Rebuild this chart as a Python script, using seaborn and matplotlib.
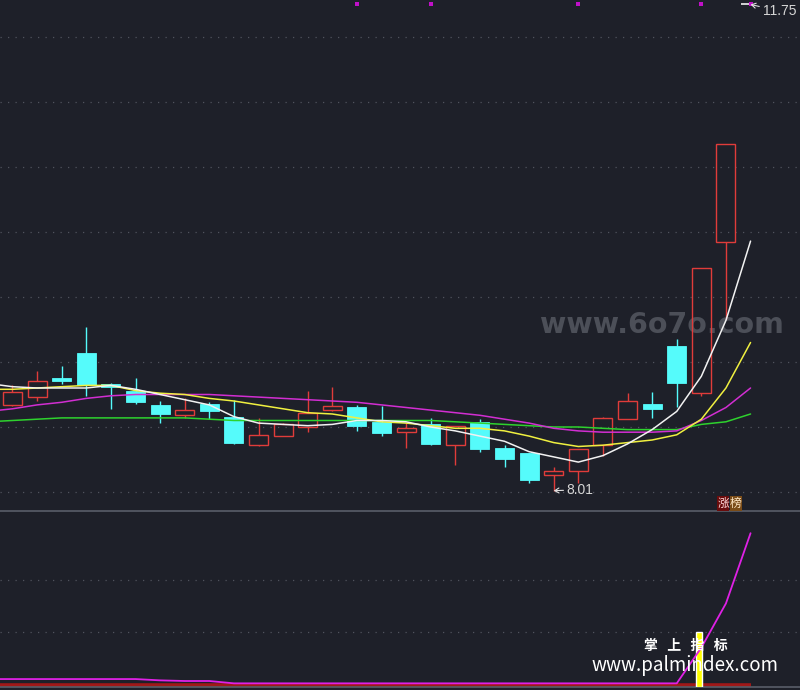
import matplotlib
matplotlib.use("Agg")
import matplotlib.pyplot as plt
import matplotlib.transforms as mtransforms
import numpy as np
import pandas as pd
import seaborn as sns

# ---- daily candles, oldest first (index 0..30) ----
opens  = [8.67, 8.73, 8.88, 9.07, 8.83, 8.78, 8.67, 8.59, 8.68, 8.58,
          8.36, 8.43, 8.50, 8.63, 8.65, 8.54, 8.46, 8.52, 8.36, 8.54,
          8.34, 8.30, 8.13, 8.16, 8.36, 8.56, 8.68, 9.12, 8.76, 9.92, 11.75]
highs  = [8.82, 8.93, 8.97, 9.27, 8.84, 8.88, 8.70, 8.72, 8.69, 8.71,
          8.57, 8.53, 8.78, 8.81, 8.67, 8.66, 8.53, 8.57, 8.51, 8.56,
          8.36, 8.30, 8.19, 8.33, 8.58, 8.76, 8.77, 9.18, 9.72, 10.68, 11.75]
lows   = [8.66, 8.70, 8.83, 8.74, 8.64, 8.68, 8.53, 8.57, 8.56, 8.37,
          8.35, 8.43, 8.46, 8.62, 8.47, 8.43, 8.34, 8.36, 8.21, 8.31,
          8.19, 8.07, 8.01, 8.07, 8.28, 8.56, 8.57, 8.65, 8.74, 9.33, 11.75]
closes = [8.77, 8.85, 8.85, 8.82, 8.81, 8.69, 8.60, 8.63, 8.62, 8.38,
          8.44, 8.52, 8.61, 8.66, 8.51, 8.45, 8.49, 8.37, 8.51, 8.33,
          8.25, 8.09, 8.16, 8.33, 8.57, 8.70, 8.64, 8.84, 9.72, 10.68, 11.75]

# ---- moving averages, starting one session before the first candle (-1..30) ----
ma5  = [8.835, 8.81, 8.80, 8.80, 8.80, 8.82, 8.79, 8.75, 8.71, 8.67, 8.58,
        8.53, 8.52, 8.51, 8.52, 8.55, 8.55, 8.54, 8.50, 8.47, 8.43,
        8.39, 8.31, 8.27, 8.23, 8.28, 8.37, 8.48, 8.62, 8.89, 9.32, 9.93]
ma10 = [8.79, 8.79, 8.80, 8.81, 8.82, 8.82, 8.78, 8.76, 8.75, 8.72, 8.70,
        8.67, 8.64, 8.61, 8.60, 8.57, 8.54, 8.53, 8.51, 8.49, 8.49,
        8.47, 8.43, 8.38, 8.35, 8.36, 8.38, 8.40, 8.44, 8.56, 8.80, 9.15]
ma20 = [8.62, 8.64, 8.67, 8.69, 8.72, 8.74, 8.75, 8.75, 8.75, 8.75, 8.74,
        8.73, 8.72, 8.71, 8.70, 8.69, 8.67, 8.65, 8.63, 8.61, 8.59,
        8.56, 8.53, 8.49, 8.47, 8.46, 8.46, 8.46, 8.47, 8.55, 8.65, 8.80]
ma60 = [8.54, 8.55, 8.56, 8.57, 8.57, 8.57, 8.57, 8.57, 8.57, 8.56, 8.55,
        8.55, 8.55, 8.55, 8.55, 8.55, 8.55, 8.55, 8.55, 8.54, 8.53,
        8.52, 8.51, 8.50, 8.50, 8.49, 8.48, 8.48, 8.48, 8.52, 8.54, 8.60]

# ---- sub-chart indicator (-1..30) ----
sub_line = [1.9, 1.9, 1.9, 1.9, 1.9, 1.9, 1.9, 1.4, 1.15, 1.15,
            0.25, 0.25, 0.25, 0.25, 0.25, 0.25, 0.25, 0.25, 0.25, 0.25,
            0.25, 0.25, 0.25, 0.25, 0.25, 0.25, 0.25, 0.25, 0.25, 14, 31, 58]
signal_days = [14, 17, 23, 28, 30]
trigger_day = [27.9]
trigger_level = [20]

price_ticks = [8.0, 8.5, 9.0, 9.5, 10.0, 10.5, 11.0, 11.5]
sub_ticks = [20, 40]

BG = "#1e2029"
RED = "#e03c3a"
CYAN = "#55fbfb"
GRID = "#50535d"

sns.set_theme(style="dark", rc={"axes.facecolor": BG, "figure.facecolor": BG,
                                "savefig.facecolor": BG})
plt.rcParams["font.family"] = ["DejaVu Sans", "Noto Sans CJK SC"]

fig = plt.figure(figsize=(8.0, 6.9), dpi=100)
ax = fig.add_axes([0, 0.25942, 1, 0.74058])
ax2 = fig.add_axes([0, 0.00435, 1, 0.25507])

days = np.arange(len(closes))
ma_days = np.arange(-1, len(closes))
o = np.array(opens); h = np.array(highs); l = np.array(lows); c = np.array(closes)
width = 0.77

for a in (ax, ax2):
    a.set_xlim(-0.508, 32.01)
    a.set_xticks([]); a.set_yticks([])
    a.grid(False)
    for s in a.spines.values():
        s.set_visible(False)

ax.set_ylim(7.8538, 11.7846)
ax2.set_ylim(-1.154, 66.54)

for p in price_ticks:
    ax.axhline(p, color=GRID, lw=0.9, ls=(0, (1, 5)), zorder=0.6)
for v in sub_ticks:
    ax2.axhline(v, color=GRID, lw=0.9, ls=(0, (1, 5)), zorder=0.6)

for side in ("top", "bottom"):
    ax2.spines[side].set_visible(True)
    ax2.spines[side].set_color("#5a5e69")
    ax2.spines[side].set_linewidth(1.2)

# watermark behind the candles
ax.text(662 / 800, 1 - 325 / 690, "www.6o7o.com", transform=fig.transFigure,
        ha="center", va="center", fontsize=20.5, fontweight="bold",
        color="#4c4f58", zorder=0.5)

up = c > o
down = c < o
flat = c == o

# rising candles: hollow red bodies with wicks outside the body
ax.bar(days[up], (c - o)[up], bottom=o[up], width=width, facecolor="none",
       edgecolor=RED, linewidth=1.0, zorder=2)
ax.vlines(days[up], c[up], h[up], color=RED, lw=1.0, zorder=2)
ax.vlines(days[up], l[up], o[up], color=RED, lw=1.0, zorder=2)

# falling candles: solid cyan
ax.vlines(days[down], l[down], h[down], color=CYAN, lw=1.0, zorder=2)
ax.bar(days[down], (o - c)[down], bottom=c[down], width=width, color=CYAN,
       edgecolor=CYAN, linewidth=0.6, zorder=2.1)

# one-price session
ax.hlines(c[flat], days[flat] - width / 2, days[flat],
          color="#f0f0f0", lw=1.2, zorder=2)

ma_df = pd.DataFrame({
    "day": np.tile(ma_days, 4),
    "price": ma5 + ma10 + ma20 + ma60,
    "line": ["MA5"] * len(ma5) + ["MA10"] * len(ma10) + ["MA20"] * len(ma20) + ["MA60"] * len(ma60),
})
palette = {"MA5": "#f2f2f2", "MA10": "#f0f040", "MA20": "#d22ed2", "MA60": "#2ed22e"}
sns.lineplot(data=ma_df, x="day", y="price", hue="line", palette=palette,
             hue_order=["MA60", "MA20", "MA10", "MA5"], estimator=None, sort=False,
             legend=False, linewidth=1.1, ax=ax, zorder=3)
ax.set_xlabel(""); ax.set_ylabel("")

# signal markers along the top edge
top_tr = mtransforms.blended_transform_factory(ax.transData, ax.transAxes)
ax.scatter(signal_days, [1 - 3.5 / 511] * len(signal_days), marker="s", s=9,
           color="#c010c8", transform=top_tr, zorder=4, linewidths=0)

# low / high labels
num_font = ["Liberation Sans", "DejaVu Sans"]
arrow_kw = dict(arrowstyle="->,head_length=0.3,head_width=0.18", color="#e0e0e0",
                lw=0.8, shrinkA=0, shrinkB=0)
lo_i = int(np.argmin(l)); hi_i = int(np.argmax(h))
ax.annotate(f"{l[lo_i]:.2f}", xy=(lo_i, l[lo_i]), xytext=(13, 1), textcoords="offset pixels",
            color="#d6d6d6", fontsize=10, family=num_font, ha="left", va="center",
            arrowprops=arrow_kw, zorder=5)
ax.annotate(f"{h[hi_i]:.2f}", xy=(hi_i, h[hi_i]), xytext=(12, -6.5), textcoords="offset pixels",
            color="#d6d6d6", fontsize=10, family=num_font, ha="left", va="center",
            arrowprops=arrow_kw, zorder=5)

# tag under the last rising candle
fig.text(723 / 800, 1 - 503.5 / 690, "涨", color="#ffd8d8", fontsize=8.5,
         family=["Noto Sans CJK SC"], ha="center", va="center",
         bbox=dict(boxstyle="square,pad=0.05", fc="#6a0c0c", ec="none"))
fig.text(736 / 800, 1 - 503.5 / 690, "榜", color="#ffe8c8", fontsize=8.5,
         family=["Noto Sans CJK SC"], ha="center", va="center",
         bbox=dict(boxstyle="square,pad=0.05", fc="#7a4c18", ec="none"))

# ---- sub chart ----
ax2.hlines(-0.25, -1, len(closes) - 1, color="#a01818", lw=2.6, zorder=2)
ax2.bar(trigger_day, [t - (-1.154) for t in trigger_level], bottom=-1.154, width=0.26,
        color="#ffff00", zorder=3)
sub_df = pd.DataFrame({"day": ma_days, "value": sub_line})
sns.lineplot(data=sub_df, x="day", y="value", color="#e020e6", linewidth=1.3,
             estimator=None, sort=False, legend=False, ax=ax2, zorder=4)
ax2.set_xlabel(""); ax2.set_ylabel("")

fig.text(685.5 / 800, 1 - 646 / 690, "掌   上   指   标", color="white", fontsize=10,
         fontweight="bold", family=["Noto Sans CJK SC"], ha="center", va="center", zorder=6)
fig.text(685 / 800, 1 - 665.5 / 690, "www.palmindex.com", color="white", fontsize=13.5,
         family=["Noto Sans CJK SC"], ha="center", va="center", zorder=6)

fig.savefig("out.png", dpi=100, facecolor=BG)
